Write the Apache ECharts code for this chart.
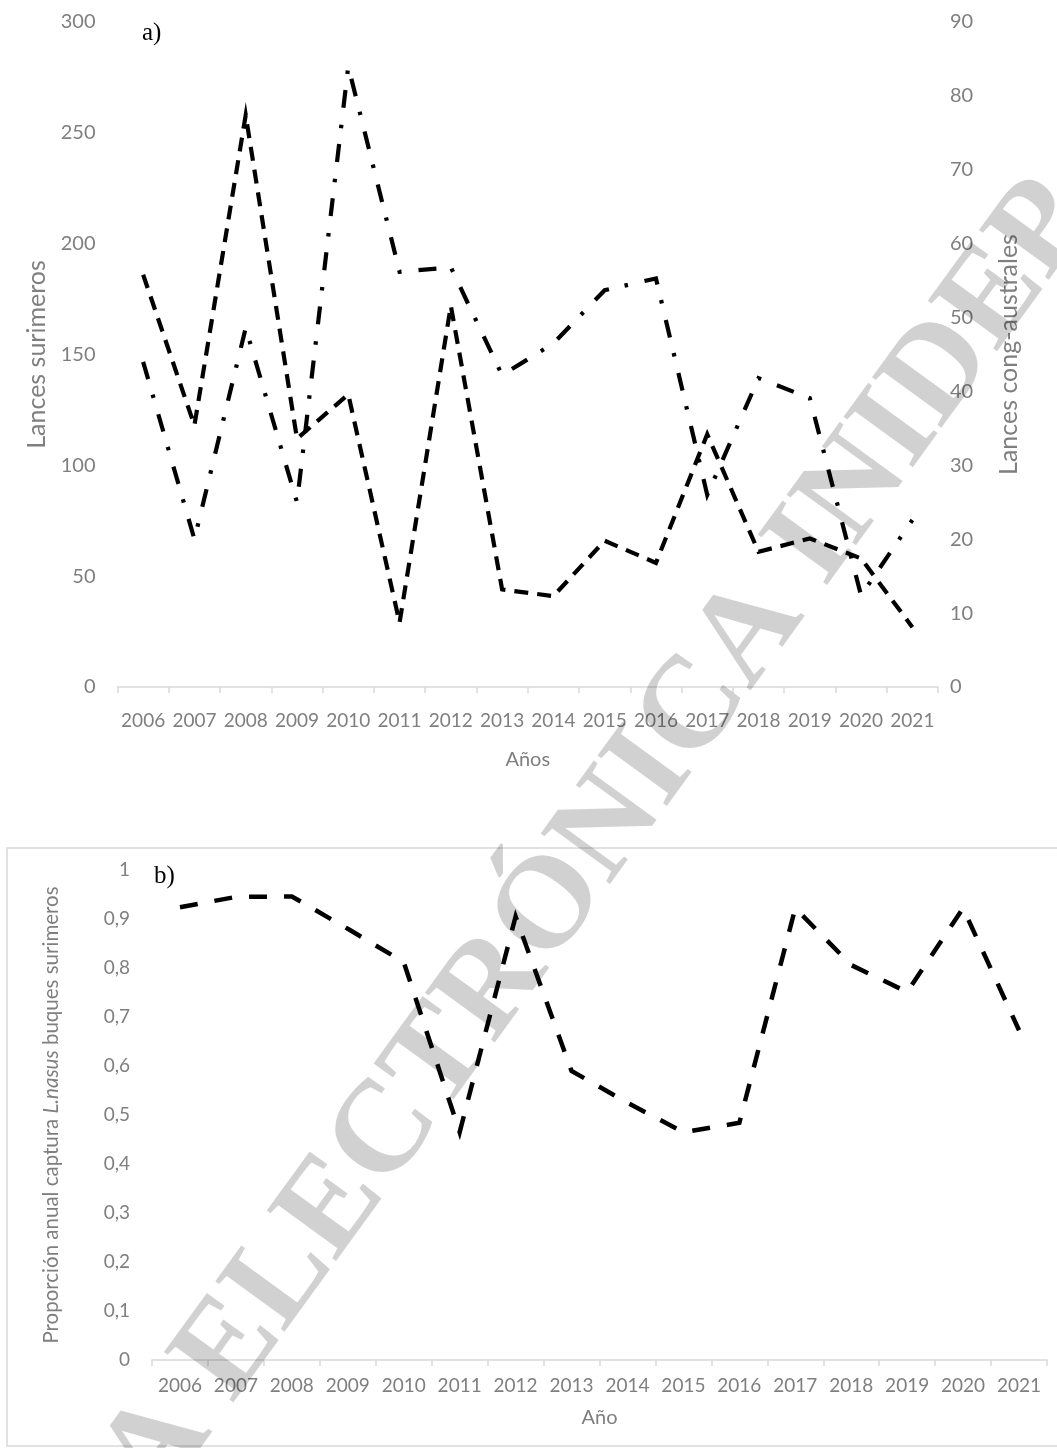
<!DOCTYPE html>
<html>
<head>
<meta charset="utf-8">
<script src="https://cdn.jsdelivr.net/npm/echarts@6/dist/echarts.min.js"></script>
<style>
  html, body { margin: 0; padding: 0; background: #ffffff; }
  #chart { width: 1057px; height: 1448px; }
</style>
</head>
<body>
<div id="chart"></div>
<script>
// ---- data ----
const years = ['2006','2007','2008','2009','2010','2011','2012','2013','2014','2015','2016','2017','2018','2019','2020','2021'];
const lancesSurimeros = [186, 118, 258, 112, 132, 29, 172, 44, 41, 66, 56, 114, 61, 67, 58, 27];
const lancesCongAustrales = [44, 20, 48.6, 25, 84, 56.2, 56.8, 42.2, 46.5, 53.7, 55.3, 26, 41.8, 39.1, 12.4, 22.6];
const proporcion = [0.924, 0.945, 0.946, 0.88, 0.812, 0.465, 0.905, 0.59, 0.525, 0.465, 0.484, 0.922, 0.806, 0.751, 0.922, 0.673];

const leftTitle = 'Lances surimeros';
const rightTitle = 'Lances cong-australes';
const xTitleA = 'Años';
const xTitleB = 'Año';
const watermark = 'COPIA ELECTRÓNICA INIDEP';

const FONT = 'Lato';
const GREY = '#7f7f7f';
const AXIS = '#d9d9d9';

const chart = echarts.init(document.getElementById('chart'), null, { renderer: 'canvas' });

const catAxis = (gridIndex, margin, name, nameGap) => ({
  type: 'category',
  gridIndex,
  data: years,
  boundaryGap: true,
  axisLine: { show: true, lineStyle: { color: AXIS, width: 1.5 } },
  axisTick: { show: true, length: 6, lineStyle: { color: AXIS, width: 1.5 } },
  axisLabel: { interval: 0, color: GREY, fontFamily: FONT, fontSize: 19, margin },
  splitLine: { show: false },
  name,
  nameLocation: 'middle',
  nameGap,
  nameTextStyle: { color: GREY, fontFamily: FONT, fontSize: 20 }
});

const option = {
  animation: false,
  backgroundColor: '#ffffff',
  grid: [
    { left: 117.5, right: 119, top: 22, height: 665, containLabel: false },
    { left: 152, right: 10, top: 870, height: 490, containLabel: false }
  ],
  xAxis: [
    catAxis(0, 24, xTitleA, 63),
    catAxis(1, 16, xTitleB, 48)
  ],
  yAxis: [
    {
      type: 'value', gridIndex: 0, position: 'left', min: 0, max: 300, interval: 50,
      axisLine: { show: false }, axisTick: { show: false }, splitLine: { show: false },
      axisLabel: { color: GREY, fontFamily: FONT, fontSize: 20, margin: 22 },
      name: leftTitle, nameLocation: 'middle', nameGap: 64, nameRotate: 90,
      nameTextStyle: { color: GREY, fontFamily: FONT, fontSize: 25 }
    },
    {
      type: 'value', gridIndex: 0, position: 'right', min: 0, max: 90, interval: 10,
      axisLine: { show: false }, axisTick: { show: false }, splitLine: { show: false },
      axisLabel: { color: GREY, fontFamily: FONT, fontSize: 20, margin: 12 },
      name: rightTitle, nameLocation: 'middle', nameGap: 58, nameRotate: 90,
      nameTextStyle: { color: GREY, fontFamily: FONT, fontSize: 25 }
    },
    {
      type: 'value', gridIndex: 1, position: 'left', min: 0, max: 1, interval: 0.1,
      axisLine: { show: false }, axisTick: { show: false }, splitLine: { show: false },
      axisLabel: {
        color: GREY, fontFamily: FONT, fontSize: 19, margin: 22,
        formatter: v => String(+v.toFixed(1)).replace('.', ',')
      },
      name: '{n|Proporción anual captura }{i|L.nasus}{n| buques surimeros}',
      nameLocation: 'middle', nameGap: 90, nameRotate: 90,
      nameTextStyle: {
        color: GREY, fontFamily: FONT, fontSize: 20.5,
        rich: {
          n: { color: GREY, fontFamily: FONT, fontSize: 20.5 },
          i: { color: GREY, fontFamily: FONT, fontSize: 20.5, fontStyle: 'italic' }
        }
      }
    }
  ],
  series: [
    {
      name: leftTitle, type: 'line', xAxisIndex: 0, yAxisIndex: 0,
      data: lancesSurimeros, symbol: 'none', z: 5,
      lineStyle: { color: '#000000', width: 4.2, type: [14, 9], cap: 'butt', join: 'miter' }
    },
    {
      name: rightTitle, type: 'line', xAxisIndex: 0, yAxisIndex: 1,
      data: lancesCongAustrales, symbol: 'none', z: 5,
      lineStyle: { color: '#000000', width: 4.2, type: [18, 16, 3.5, 17], cap: 'butt', join: 'miter' }
    },
    {
      name: 'Proporción', type: 'line', xAxisIndex: 1, yAxisIndex: 2,
      data: proporcion, symbol: 'none', z: 5,
      lineStyle: { color: '#000000', width: 4.5, type: [18, 17], cap: 'butt', join: 'miter' }
    }
  ],
  graphic: [
    {
      type: 'rect', z: 0, silent: true,
      shape: { x: 7, y: 848, width: 1060, height: 598 },
      style: { fill: 'none', stroke: AXIS, lineWidth: 1.5 }
    },
    {
      type: 'text', z: 100, silent: true,
      x: 502, y: 975, rotation: 54 * Math.PI / 180,
      style: {
        text: watermark,
        fontFamily: 'Liberation Serif', fontWeight: 'bold', fontSize: 131,
        fill: 'rgba(0,0,0,0.18)', align: 'center', verticalAlign: 'middle'
      }
    },
    {
      type: 'text', z: 10, silent: true, left: 142, top: 21,
      style: { text: 'a)', fontFamily: 'Liberation Serif', fontSize: 25, fill: '#000000' }
    },
    {
      type: 'text', z: 10, silent: true, left: 154, top: 864,
      style: { text: 'b)', fontFamily: 'Liberation Serif', fontSize: 25, fill: '#000000' }
    }
  ]
};

chart.setOption(option);
</script>
</body>
</html>
